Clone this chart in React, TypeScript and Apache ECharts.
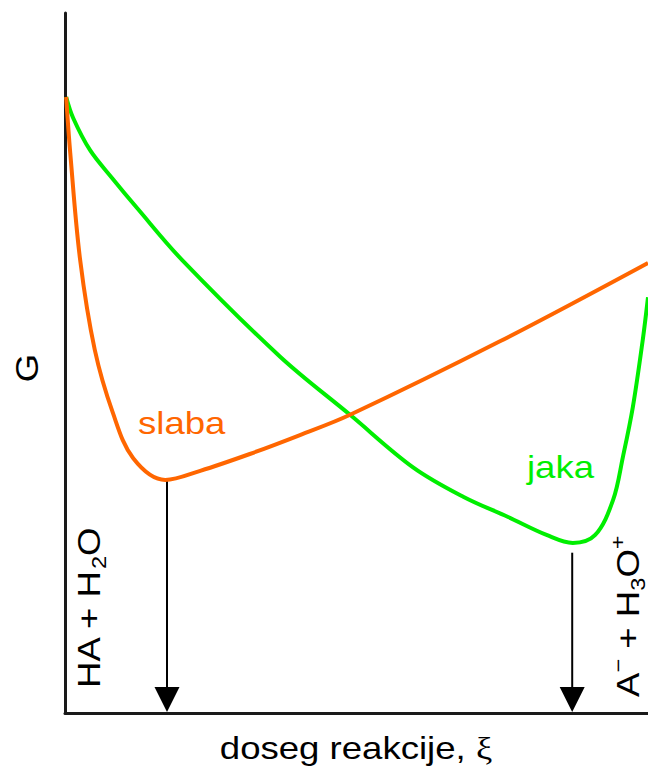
import React, { useEffect, useRef } from "react";
import * as echarts from "echarts";

// reaction extent ξ (0..100) and Gibbs energy G (0..100, arbitrary units)
const weakXi = [0.2, 0.9, 2.6, 5.1, 8.2, 11.7, 17.2, 23.2, 31.7, 40.3, 48.9, 74.6, 100];
const weakG = [88.0, 80.0, 64.7, 51.9, 42.9, 36.4, 33.3, 34.6, 37.0, 39.7, 42.6, 53.1, 64.3];

const strongXi = [0.2, 1.4, 4.3, 8.1, 12.4, 20.1, 36.9, 48.9, 59.7, 68.3, 76.0, 82.7, 87.1, 90.9, 94.0, 95.7, 97.4, 99.1, 100];
const strongG = [88.0, 85.0, 80.4, 76.4, 72.1, 64.7, 50.9, 42.6, 35.1, 30.9, 28.0, 25.4, 24.3, 25.4, 30.4, 36.6, 43.7, 53.3, 59.4];

// arrows from the minima down to the ξ axis
const arrowXi = [17.5, 87.0];
const arrowFromG = [33.3, 22.9];

const labels = {
  weak: "slaba",
  strong: "jaka",
  yTitle: "G",
  xTitle: "doseg reakcije, ",
  xi: "ξ",
};

const ORANGE = "#ff6600";
const GREEN = "#00ee00";
const FONT = "Liberation Sans, Arial, sans-serif";
const SX = 1.18;

export default function App() {
  const ref = useRef<HTMLDivElement>(null);
  useEffect(() => {
    if (!ref.current) return;
    const chart = echarts.init(ref.current, null, { renderer: "svg" });
    const pair = (xs: number[], ys: number[]) => xs.map((x, i) => [x, ys[i]]);
    const richBase = {
      n: { fontSize: 31, fontFamily: FONT, fill: "#000", lineHeight: 40 },
      s: { fontSize: 20, fontFamily: FONT, fill: "#000", lineHeight: 20, verticalAlign: "bottom" },
      p: { fontSize: 20, fontFamily: FONT, fill: "#000", lineHeight: 22, verticalAlign: "top" },
      x: { fontSize: 31, fontFamily: "Liberation Serif, DejaVu Serif, serif", fill: "#000", lineHeight: 40 },
    };
    chart.setOption({
      animation: false,
      backgroundColor: "#fff",
      grid: { left: 65, right: 0, top: 13, bottom: 56, containLabel: false },
      xAxis: {
        type: "value",
        min: 0,
        max: 100,
        axisLine: { show: true, onZero: false, lineStyle: { color: "#1a1a1a", width: 3 } },
        axisTick: { show: false },
        axisLabel: { show: false },
        splitLine: { show: false },
      },
      yAxis: {
        type: "value",
        min: 0,
        max: 100,
        axisLine: { show: true, onZero: false, lineStyle: { color: "#1a1a1a", width: 3 } },
        axisTick: { show: false },
        axisLabel: { show: false },
        splitLine: { show: false },
      },
      series: [
        {
          type: "line",
          data: pair(strongXi, strongG),
          smooth: 0.35,
          symbol: "none",
          lineStyle: { color: GREEN, width: 4 },
        },
        {
          type: "line",
          data: pair(weakXi, weakG),
          smooth: 0.35,
          symbol: "none",
          lineStyle: { color: ORANGE, width: 4 },
        },
        {
          type: "custom",
          clip: false,
          data: pair(arrowXi, arrowFromG),
          renderItem: (params: any, api: any) => {
            const top = api.coord([api.value(0), api.value(1)]);
            const bot = api.coord([api.value(0), 0]);
            const hw = 12.5;
            const hh = 26;
            return {
              type: "group",
              children: [
                {
                  type: "line",
                  shape: { x1: top[0], y1: top[1], x2: bot[0], y2: bot[1] - hh + 2 },
                  style: { stroke: "#000", lineWidth: 2 },
                },
                {
                  type: "polygon",
                  shape: {
                    points: [
                      [bot[0] - hw, bot[1] - hh],
                      [bot[0] + hw, bot[1] - hh],
                      [bot[0], bot[1] - 1],
                    ],
                  },
                  style: { fill: "#000" },
                },
              ],
            };
          },
        },
      ],
      graphic: [
        {
          type: "text",
          x: 27,
          y: 368,
          rotation: Math.PI / 2,
          scaleX: SX,
          style: { text: labels.yTitle, fontSize: 31, fontFamily: FONT, fill: "#000", align: "center", verticalAlign: "middle" },
        },
        {
          type: "text",
          x: 138,
          y: 423,
          scaleX: SX,
          style: { text: labels.weak, fontSize: 31, fontFamily: FONT, fill: ORANGE, align: "left", verticalAlign: "middle" },
        },
        {
          type: "text",
          x: 527,
          y: 467,
          scaleX: SX,
          style: { text: labels.strong, fontSize: 31, fontFamily: FONT, fill: GREEN, align: "left", verticalAlign: "middle" },
        },
        {
          type: "text",
          x: 89,
          y: 688,
          rotation: Math.PI / 2,
          scaleX: SX,
          style: {
            text: "{n|HA + H}{s|2}{n|O}",
            align: "left",
            verticalAlign: "middle",
            rich: richBase,
          },
        },
        {
          type: "text",
          x: 628,
          y: 697,
          rotation: Math.PI / 2,
          scaleX: SX,
          style: {
            text: "{n|A}{p|−}{n| + H}{s|3}{n|O}{p|+}",
            align: "left",
            verticalAlign: "middle",
            rich: richBase,
          },
        },
        {
          type: "text",
          x: 356,
          y: 748,
          scaleX: SX,
          style: {
            text: "{n|" + labels.xTitle + "}{x|" + labels.xi + "}",
            align: "center",
            verticalAlign: "middle",
            rich: richBase,
          },
        },
      ],
    });
    return () => chart.dispose();
  }, []);
  return (
    <div
      ref={ref}
      style={{ position: "fixed", left: 0, top: 0, width: 648, height: 769, background: "#fff" }}
    />
  );
}
